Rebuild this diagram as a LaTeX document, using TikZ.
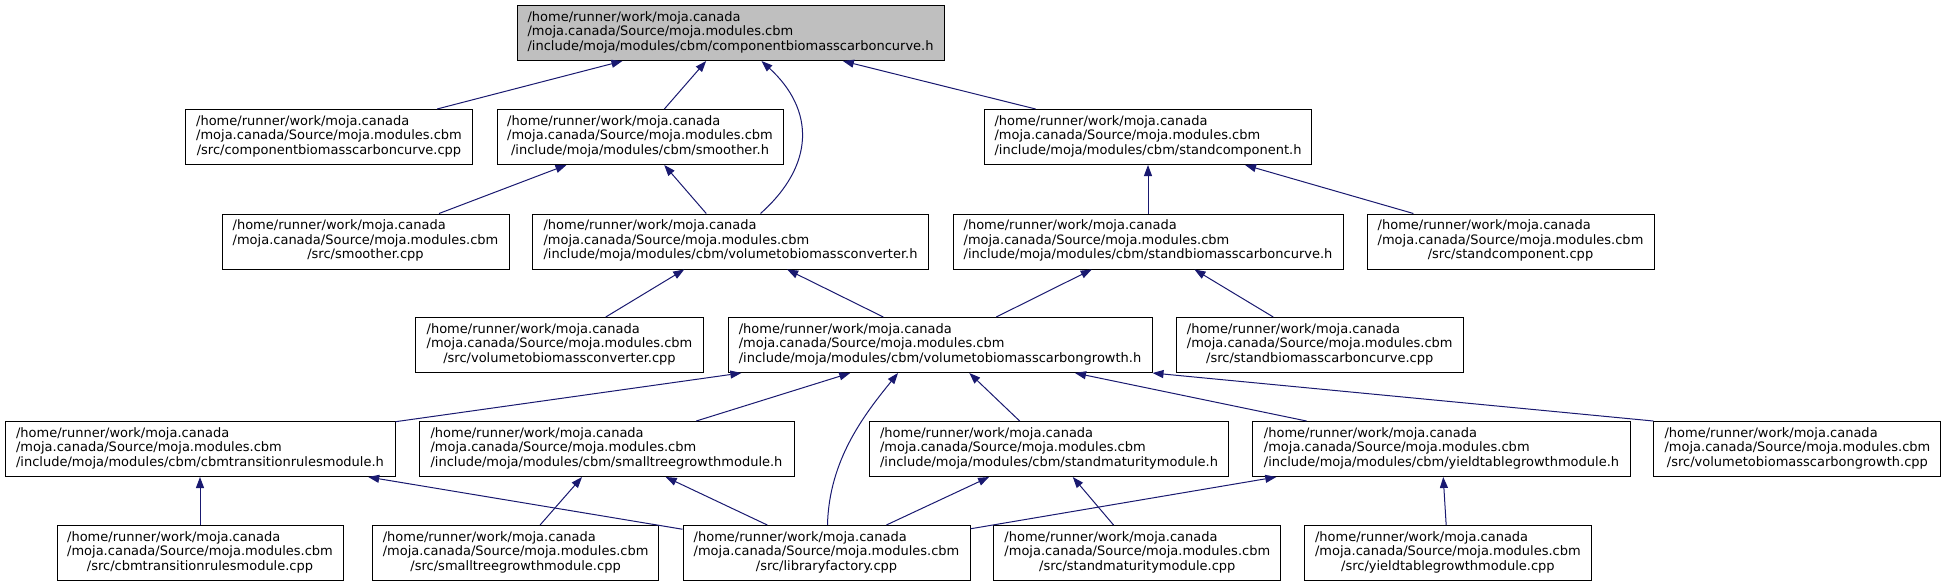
\documentclass[tikz,border=0pt]{standalone}
\usepackage{fontspec}
\setmainfont{DejaVu Sans}
\usetikzlibrary{arrows.meta}
\definecolor{edgec}{HTML}{191970}
\definecolor{rootfill}{HTML}{BFBFBF}
\newcommand{\lbl}[1]{\begin{tabular}{@{}l@{}}/home/runner/work/moja.canada\\/moja.canada/Source/moja.modules.cbm\\\multicolumn{1}{@{}c@{}}{#1}\end{tabular}}
\begin{document}
\begin{tikzpicture}[x=1pt,y=-1pt,
 box/.style={draw=black, line width=1pt, minimum height=55pt, inner sep=0pt, minimum width=#1, font=\fontsize{13}{14.5}\selectfont},
 dep/.style={draw=edgec, line width=1pt, {Triangle[length=11pt,width=8pt]}-}]
\useasboundingbox (0,0) rectangle (1946,587);
% row 1
\node[box=427, fill=rootfill] (root) at (730.5,33) {\lbl{/include/moja/modules/cbm/componentbiomasscarboncurve.h}};
% row 2
\node[box=287] (compcpp) at (329,137) {\lbl{/src/componentbiomasscarboncurve.cpp}};
\node[box=286] (smootherh) at (640,137) {\lbl{/include/moja/modules/cbm/smoother.h}};
\node[box=326.5] (standcomph) at (1148,137) {\lbl{/include/moja/modules/cbm/standcomponent.h}};
% row 3
\node[box=287] (smoothercpp) at (365.5,241.5) {\lbl{/src/smoother.cpp}};
\node[box=396] (volconvh) at (730.5,241.5) {\lbl{/include/moja/modules/cbm/volumetobiomassconverter.h}};
\node[box=390] (standbioh) at (1148,241.5) {\lbl{/include/moja/modules/cbm/standbiomasscarboncurve.h}};
\node[box=287] (standcompcpp) at (1510.5,241.5) {\lbl{/src/standcomponent.cpp}};
% row 4
\node[box=287.6] (volconvcpp) at (559.5,345) {\lbl{/src/volumetobiomassconverter.cpp}};
\node[box=424] (volcarbonh) at (940,345) {\lbl{/include/moja/modules/cbm/volumetobiomasscarbongrowth.h}};
\node[box=287] (standbiocpp) at (1319.7,345) {\lbl{/src/standbiomasscarboncurve.cpp}};
% row 5
\node[box=390] (cbmtransh) at (200,449) {\lbl{/include/moja/modules/cbm/cbmtransitionrulesmodule.h}};
\node[box=375] (smalltreeh) at (606.5,449) {\lbl{/include/moja/modules/cbm/smalltreegrowthmodule.h}};
\node[box=358.6] (standmath) at (1049,449) {\lbl{/include/moja/modules/cbm/standmaturitymodule.h}};
\node[box=377.5] (yieldh) at (1441.5,449) {\lbl{/include/moja/modules/cbm/yieldtablegrowthmodule.h}};
\node[box=287] (volcarboncpp) at (1797.4,449) {\lbl{/src/volumetobiomasscarbongrowth.cpp}};
% row 6
\node[box=286] (cbmtranscpp) at (200,553) {\lbl{/src/cbmtransitionrulesmodule.cpp}};
\node[box=286.4] (smalltreecpp) at (515.6,553) {\lbl{/src/smalltreegrowthmodule.cpp}};
\node[box=287] (libfactory) at (826.5,553) {\lbl{/src/libraryfactory.cpp}};
\node[box=287] (standmatcpp) at (1137.3,553) {\lbl{/src/standmaturitymodule.cpp}};
\node[box=287] (yieldcpp) at (1447.9,553) {\lbl{/src/yieldtablegrowthmodule.cpp}};
% edges
\draw[dep] (root) -- (compcpp);
\draw[dep] (root) -- (smootherh);
\draw[dep] ([xshift=31pt]root.south) .. controls (815,110) and (815,165) .. ([xshift=30pt]volconvh.north);
\draw[dep] (root) -- (standcomph);
\draw[dep] (smootherh) -- (smoothercpp);
\draw[dep] (smootherh) -- (volconvh);
\draw[dep] (standcomph) -- (standbioh);
\draw[dep] (standcomph) -- (standcompcpp);
\draw[dep] (volconvh) -- (volconvcpp);
\draw[dep] (volconvh) -- (volcarbonh);
\draw[dep] (standbioh) -- (volcarbonh);
\draw[dep] (standbioh) -- (standbiocpp);
\draw[dep] (volcarbonh) -- (cbmtransh);
\draw[dep] (volcarbonh) -- (smalltreeh);
\draw[dep] ([xshift=-42pt]volcarbonh.south) .. controls (864,415) and (829,460) .. ([xshift=1pt]libfactory.north);
\draw[dep] (volcarbonh) -- (standmath);
\draw[dep] (volcarbonh) -- (yieldh);
\draw[dep] (volcarbonh.south east) -- (volcarboncpp.north west);
\draw[dep] (cbmtransh) -- (cbmtranscpp);
\draw[dep] (cbmtransh) -- (libfactory);
\draw[dep] (smalltreeh) -- (smalltreecpp);
\draw[dep] (smalltreeh) -- (libfactory);
\draw[dep] (standmath) -- (libfactory);
\draw[dep] (standmath) -- (standmatcpp);
\draw[dep] (yieldh) -- (libfactory);
\draw[dep] (yieldh) -- (yieldcpp);
\end{tikzpicture}
\end{document}
